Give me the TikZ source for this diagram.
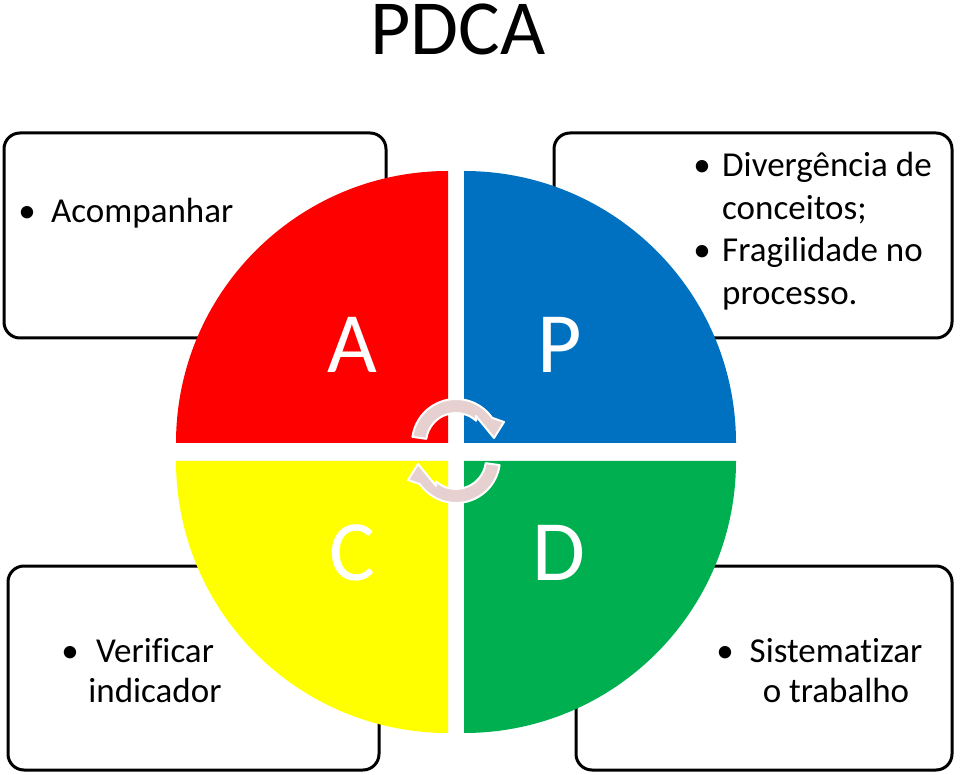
\documentclass[tikz,border=0pt]{standalone}
\usepackage{fontspec}
\setmainfont[Ligatures=NoCommon]{Carlito}
\usetikzlibrary{calc}
\definecolor{qred}{RGB}{255,0,0}
\definecolor{qblue}{RGB}{0,112,192}
\definecolor{qyellow}{RGB}{255,255,0}
\definecolor{qgreen}{RGB}{0,176,80}
\definecolor{arrowpink}{RGB}{230,208,208}
\begin{document}
\begin{tikzpicture}[x=1pt,y=1pt,
  infobox/.style={draw=black, line width=3pt, fill=white, rounded corners=16pt, inner sep=0pt, outer sep=0pt, anchor=south west},
  bodytext/.style={font=\fontsize{35}{42}\selectfont, inner sep=0pt, text=black},
  bigletter/.style={font=\fontsize{86}{100}\selectfont, text=white, inner sep=0pt, anchor=base},
  cyclearrow/.style={fill=arrowpink, draw=white, line width=2pt, line join=round}]
\useasboundingbox (0,0) rectangle (960,774);

% title
\node[font=\fontsize{78}{90}\selectfont, inner sep=0pt, text height=51pt, text depth=0pt, anchor=base] (title) at (458,719) {PDCA};

% boxes
\node[infobox, minimum width=382pt, minimum height=205pt] (boxA) at (4,436) {};
\node[infobox, minimum width=398pt, minimum height=205pt] (boxP) at (554,436) {};
\node[infobox, minimum width=371pt, minimum height=204pt] (boxC) at (8,4) {};
\node[infobox, minimum width=376pt, minimum height=204pt] (boxD) at (576,4) {};

% quadrants
\fill[qred] (448,331) -- (176,331) arc[start angle=180, end angle=90, radius=272] -- cycle;
\fill[qblue] (464,331) -- (464,603) arc[start angle=90, end angle=0, radius=272] -- cycle;
\fill[qyellow] (448,313) -- (176,313) arc[start angle=180, end angle=270, radius=272] -- cycle;
\fill[qgreen] (464,313) -- (736,313) arc[start angle=0, end angle=-90, radius=272] -- cycle;

% cycle arrows
\def\cyclepath{(456,331) ++(172:44) arc[start angle=172, end angle=35, radius=44]
  -- (504,352) -- (494,336) -- (476,358) -- ($(456,331)+(48:30)$)
  arc[start angle=48, end angle=172, radius=30] -- cycle}
\draw[cyclearrow] \cyclepath;
\begin{scope}[rotate around={180:(456,323)}]
\draw[cyclearrow] \cyclepath;
\end{scope}

% big letters
\node[bigletter] (letA) at (352,401) {A};
\node[bigletter] (letP) at (560,401) {P};
\node[bigletter] (letC) at (352,194) {C};
\node[bigletter] (letD) at (559,194) {D};

% box texts
\node[bodytext, anchor=base] (bA) at (27,551) {•};
\node[bodytext, anchor=base west] (tA) at (51,551) {Acompanhar};

\node[bodytext, anchor=base] (bP1) at (702,597) {•};
\node[bodytext, anchor=base west] (tP1) at (722,597) {Divergência de};
\node[bodytext, anchor=base west] (tP2) at (722,554) {conceitos;};
\node[bodytext, anchor=base] (bP2) at (702,512) {•};
\node[bodytext, anchor=base west] (tP3) at (722,512) {Fragilidade no};
\node[bodytext, anchor=base west] (tP4) at (722,469) {processo.};

\node[bodytext, anchor=base] (bC) at (70,112) {•};
\node[bodytext, anchor=base] (tC1) at (155,112) {Verificar};
\node[bodytext, anchor=base] (tC2) at (155,72) {indicador};

\node[bodytext, anchor=base] (bD) at (725,112) {•};
\node[bodytext, anchor=base] (tD1) at (836,112) {Sistematizar};
\node[bodytext, anchor=base] (tD2) at (836,72) {o trabalho};
\end{tikzpicture}
\end{document}
